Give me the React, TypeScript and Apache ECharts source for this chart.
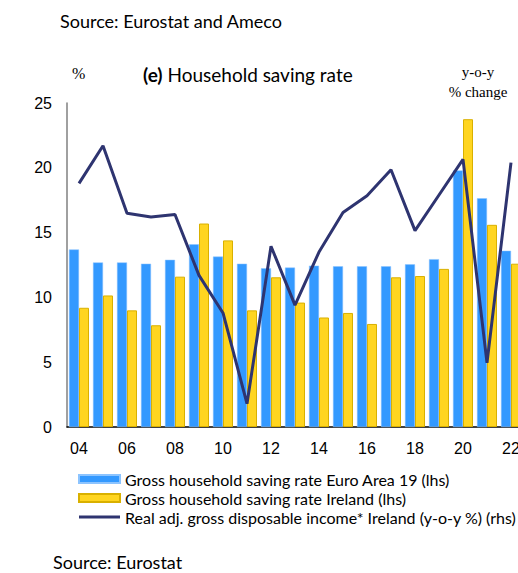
import React, { useEffect, useRef } from "react";
import * as echarts from "echarts";

const years = ["2004","2005","2006","2007","2008","2009","2010","2011","2012","2013","2014","2015","2016","2017","2018","2019","2020","2021","2022"];
const euroArea = [13.7,12.7,12.7,12.6,12.9,14.1,13.15,12.6,12.25,12.3,12.45,12.4,12.4,12.4,12.55,12.95,19.8,17.65,13.6];
const ireland = [9.2,10.15,9.0,7.85,11.6,15.7,14.4,9.0,11.55,9.6,8.45,8.8,7.95,11.55,11.65,12.2,23.75,15.6,12.6];
const incomeYoY = [18.8,21.7,16.5,16.2,16.4,11.7,8.8,1.8,13.95,9.4,13.5,16.55,17.85,19.85,15.15,17.9,20.65,4.95,20.4];
const leftTicks = [0, 5, 10, 15, 20, 25];

const names = [
  "Gross household saving rate Euro Area 19 (lhs)",
  "Gross household saving rate Ireland (lhs)",
  "Real adj. gross disposable income* Ireland (y-o-y %) (rhs)",
];

export default function App() {
  const ref = useRef<HTMLDivElement>(null);
  useEffect(() => {
    if (!ref.current) return;
    const chart = echarts.init(ref.current, undefined, { renderer: "svg" });
    const sans = "Lato";
    chart.setOption({
      animation: false,
      backgroundColor: "#ffffff",
      grid: { left: 67, top: 103, right: 37, bottom: 146, containLabel: false },
      xAxis: {
        type: "category",
        data: years,
        axisLine: { lineStyle: { color: "#000", width: 1.5 } },
        axisTick: { show: false },
        axisLabel: {
          interval: 1,
          formatter: (v: string) => v.slice(2),
          fontFamily: "Liberation Sans",
          fontSize: 16,
          color: "#000",
          margin: 13,
        },
      },
      yAxis: [
        {
          type: "value",
          min: leftTicks[0],
          max: leftTicks[leftTicks.length - 1],
          interval: 5,
          axisLine: { show: true, lineStyle: { color: "#808080", width: 1.5 } },
          axisTick: { show: false },
          splitLine: { show: false },
          axisLabel: { fontFamily: "Liberation Sans", fontSize: 16, color: "#000", margin: 15 },
        },
        {
          type: "value",
          min: 0,
          max: 25,
          interval: 5,
          show: false,
          splitLine: { show: false },
        },
      ],
      legend: {
        orient: "vertical",
        left: 78,
        top: 471,
        padding: 0,
        itemWidth: 41,
        itemHeight: 8,
        itemGap: 3,
        textStyle: { fontFamily: sans, fontSize: 16, color: "#000" },
        data: [
          { name: names[0], icon: "rect" },
          { name: names[1], icon: "rect" },
          { name: names[2], icon: "path://M0,0 L41,0 L41,3 L0,3 Z" },
        ],
      },
      series: [
        {
          name: names[0],
          type: "bar",
          data: euroArea,
          barWidth: 10,
          barGap: "0%",
          itemStyle: { color: "#3399FF", borderColor: "#8cc4ff", borderWidth: 0.5 },
        },
        {
          name: names[1],
          type: "bar",
          data: ireland,
          barWidth: 10,
          barGap: "0%",
          itemStyle: { color: "#FFD520", borderColor: "#D9B000", borderWidth: 1 },
        },
        {
          name: names[2],
          type: "line",
          yAxisIndex: 1,
          data: incomeYoY,
          symbol: "none",
          showSymbol: false,
          lineStyle: { color: "#2E3470", width: 3 },
          itemStyle: { color: "#2E3470" },
        },
      ],
      graphic: [
        {
          type: "text",
          x: 60,
          y: 21,
          style: { text: "Source: Eurostat and Ameco", fontFamily: sans, fontSize: 18, fill: "#000", verticalAlign: "middle" },
        },
        {
          type: "text",
          x: 72,
          y: 73,
          style: { text: "%", fontFamily: "Liberation Serif", fontSize: 16, fill: "#000", verticalAlign: "middle" },
        },
        {
          type: "text",
          x: 143,
          y: 74,
          style: {
            text: "{b|(e)} Household saving rate",
            fontFamily: sans,
            fontSize: 19,
            fill: "#000",
            verticalAlign: "middle",
            rich: { b: { fontWeight: "bold", fontFamily: sans, fontSize: 19, fill: "#000" } },
          },
        },
        {
          type: "text",
          x: 478,
          y: 72,
          style: { text: "y-o-y", fontFamily: "Liberation Serif", fontSize: 15, fill: "#000", align: "center", verticalAlign: "middle" },
        },
        {
          type: "text",
          x: 478,
          y: 92,
          style: { text: "% change", fontFamily: "Liberation Serif", fontSize: 15, fill: "#000", align: "center", verticalAlign: "middle" },
        },
        {
          type: "text",
          x: 53,
          y: 562,
          style: { text: "Source: Eurostat", fontFamily: sans, fontSize: 18, fill: "#000", verticalAlign: "middle" },
        },
      ],
    });
    return () => chart.dispose();
  }, []);
  return (
    <div style={{ position: "absolute", left: 0, top: 0, width: 518, height: 573, overflow: "hidden", background: "#fff" }}>
      <div ref={ref} style={{ width: 560, height: 573 }} />
    </div>
  );
}
